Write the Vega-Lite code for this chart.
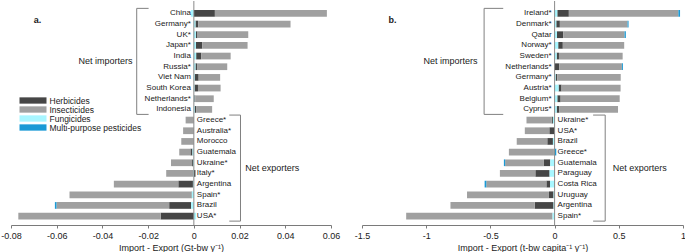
{
"$schema": "https://vega.github.io/schema/vega-lite/v6.json",
"padding": 0,
"autosize": {"type": "pad"},
"config": {
  "font": "Liberation Sans",
  "view": {"stroke": null},
  "text": {"baseline": "middle", "fontSize": 8, "color": "#1a1a1a"},
  "axisX": {"domainColor": "#7a7a7a", "tickColor": "#7a7a7a", "tickSize": 3, "labelFontSize": 9, "labelColor": "#1a1a1a", "labelPadding": 3, "labelFlush": false, "titleFontSize": 9, "titleFontWeight": "normal", "titleColor": "#1a1a1a", "titlePadding": 3, "grid": false}
},
"datasets": {
  "a": [
    {"country": "China", "grp": "imp", "Herbicides": 0.0092, "Insecticides": 0.049, "Fungicides": -0.0013, "Multi-purpose pesticides": 0},
    {"country": "Germany*", "grp": "imp", "Herbicides": 0.0012, "Insecticides": 0.0404, "Fungicides": 0.0007, "Multi-purpose pesticides": 0},
    {"country": "UK*", "grp": "imp", "Herbicides": 0.0007, "Insecticides": 0.0222, "Fungicides": 0.0009, "Multi-purpose pesticides": 0},
    {"country": "Japan*", "grp": "imp", "Herbicides": 0.0028, "Insecticides": 0.0198, "Fungicides": 0.0009, "Multi-purpose pesticides": 0},
    {"country": "India", "grp": "imp", "Herbicides": 0.0022, "Insecticides": 0.0129, "Fungicides": 0.001, "Multi-purpose pesticides": 0},
    {"country": "Russia*", "grp": "imp", "Herbicides": 0.0007, "Insecticides": 0.0132, "Fungicides": 0.0007, "Multi-purpose pesticides": 0},
    {"country": "Viet Nam", "grp": "imp", "Herbicides": 0.0017, "Insecticides": 0.0094, "Fungicides": 0.0004, "Multi-purpose pesticides": 0},
    {"country": "South Korea", "grp": "imp", "Herbicides": 0.0015, "Insecticides": 0.0099, "Fungicides": 0.0003, "Multi-purpose pesticides": 0},
    {"country": "Netherlands*", "grp": "imp", "Herbicides": 0.0004, "Insecticides": 0.0081, "Fungicides": 0.0002, "Multi-purpose pesticides": 0},
    {"country": "Indonesia", "grp": "imp", "Herbicides": 0.0006, "Insecticides": 0.007, "Fungicides": 0.0004, "Multi-purpose pesticides": 0},
    {"country": "Greece*", "grp": "exp", "Herbicides": 0, "Insecticides": -0.0036, "Fungicides": 0, "Multi-purpose pesticides": 0},
    {"country": "Australia*", "grp": "exp", "Herbicides": 0, "Insecticides": -0.0047, "Fungicides": 0, "Multi-purpose pesticides": 0},
    {"country": "Morocco", "grp": "exp", "Herbicides": 0, "Insecticides": -0.0055, "Fungicides": 0, "Multi-purpose pesticides": 0},
    {"country": "Guatemala", "grp": "exp", "Herbicides": -0.0009, "Insecticides": -0.0049, "Fungicides": -0.0006, "Multi-purpose pesticides": 0},
    {"country": "Ukraine*", "grp": "exp", "Herbicides": -0.0004, "Insecticides": -0.0092, "Fungicides": -0.0004, "Multi-purpose pesticides": 0},
    {"country": "Italy*", "grp": "exp", "Herbicides": 0.0007, "Insecticides": -0.0118, "Fungicides": -0.0003, "Multi-purpose pesticides": 0},
    {"country": "Argentina", "grp": "exp", "Herbicides": -0.0064, "Insecticides": -0.0282, "Fungicides": -0.0004, "Multi-purpose pesticides": 0},
    {"country": "Spain*", "grp": "exp", "Herbicides": -0.0002, "Insecticides": -0.0533, "Fungicides": -0.0009, "Multi-purpose pesticides": 0},
    {"country": "Brazil", "grp": "exp", "Herbicides": -0.0096, "Insecticides": -0.0493, "Fungicides": -0.0012, "Multi-purpose pesticides": -0.0007},
    {"country": "USA*", "grp": "exp", "Herbicides": -0.0145, "Insecticides": -0.0623, "Fungicides": 0.001, "Multi-purpose pesticides": 0}
  ],
  "b": [
    {"country": "Ireland*", "grp": "imp", "Herbicides": 0.09, "Insecticides": 0.853, "Fungicides": 0.021, "Multi-purpose pesticides": 0.013},
    {"country": "Denmark*", "grp": "imp", "Herbicides": 0.028, "Insecticides": 0.527, "Fungicides": 0.013, "Multi-purpose pesticides": 0.008},
    {"country": "Qatar", "grp": "imp", "Herbicides": 0.049, "Insecticides": 0.478, "Fungicides": 0.018, "Multi-purpose pesticides": 0.01},
    {"country": "Norway*", "grp": "imp", "Herbicides": 0.036, "Insecticides": 0.478, "Fungicides": 0.028, "Multi-purpose pesticides": 0},
    {"country": "Sweden*", "grp": "imp", "Herbicides": 0.018, "Insecticides": 0.496, "Fungicides": 0.016, "Multi-purpose pesticides": 0},
    {"country": "Netherlands*", "grp": "imp", "Herbicides": 0.036, "Insecticides": 0.488, "Fungicides": 0, "Multi-purpose pesticides": 0.008},
    {"country": "Germany*", "grp": "imp", "Herbicides": 0.013, "Insecticides": 0.494, "Fungicides": 0.008, "Multi-purpose pesticides": 0},
    {"country": "Austria*", "grp": "imp", "Herbicides": 0.023, "Insecticides": 0.46, "Fungicides": 0.031, "Multi-purpose pesticides": 0},
    {"country": "Belgium*", "grp": "imp", "Herbicides": 0.026, "Insecticides": 0.46, "Fungicides": 0.021, "Multi-purpose pesticides": 0},
    {"country": "Cyprus*", "grp": "imp", "Herbicides": 0.021, "Insecticides": 0.457, "Fungicides": 0.016, "Multi-purpose pesticides": 0},
    {"country": "Ukraine*", "grp": "exp", "Herbicides": -0.01, "Insecticides": -0.196, "Fungicides": -0.013, "Multi-purpose pesticides": 0},
    {"country": "USA*", "grp": "exp", "Herbicides": -0.041, "Insecticides": -0.191, "Fungicides": 0, "Multi-purpose pesticides": 0},
    {"country": "Brazil", "grp": "exp", "Herbicides": -0.044, "Insecticides": -0.238, "Fungicides": -0.013, "Multi-purpose pesticides": 0},
    {"country": "Greece*", "grp": "exp", "Herbicides": 0, "Insecticides": -0.351, "Fungicides": -0.005, "Multi-purpose pesticides": 0.013},
    {"country": "Guatemala", "grp": "exp", "Herbicides": -0.049, "Insecticides": -0.302, "Fungicides": -0.034, "Multi-purpose pesticides": -0.01},
    {"country": "Paraguay", "grp": "exp", "Herbicides": -0.111, "Insecticides": -0.276, "Fungicides": -0.039, "Multi-purpose pesticides": 0},
    {"country": "Costa Rica", "grp": "exp", "Herbicides": -0.028, "Insecticides": -0.468, "Fungicides": -0.036, "Multi-purpose pesticides": -0.013},
    {"country": "Uruguay", "grp": "exp", "Herbicides": -0.036, "Insecticides": -0.638, "Fungicides": -0.008, "Multi-purpose pesticides": 0},
    {"country": "Argentina", "grp": "exp", "Herbicides": -0.147, "Insecticides": -0.656, "Fungicides": -0.008, "Multi-purpose pesticides": 0},
    {"country": "Spain*", "grp": "exp", "Herbicides": 0, "Insecticides": -1.14, "Fungicides": -0.016, "Multi-purpose pesticides": 0}
  ]
},
"spacing": 31,
"bounds": "flush",
"resolve": {"scale": {"color": "shared"}},
"hconcat": [
  {
    "width": 320,
    "height": 224,
    "layer": [
      {
        "data": {"name": "a"},
        "transform": [{"fold": ["Herbicides", "Insecticides", "Fungicides", "Multi-purpose pesticides"], "as": ["type", "value"]}],
        "mark": {"type": "bar"},
        "encoding": {
          "y": {"field": "country", "type": "nominal", "axis": null,
                "scale": {"domain": ["China", "Germany*", "UK*", "Japan*", "India", "Russia*", "Viet Nam", "South Korea", "Netherlands*", "Indonesia", "Greece*", "Australia*", "Morocco", "Guatemala", "Ukraine*", "Italy*", "Argentina", "Spain*", "Brazil", "USA*"], "paddingInner": 0.37, "paddingOuter": 0.68, "align": 0.62}},
          "x": {"field": "value", "type": "quantitative", "stack": "zero",
                "scale": {"domain": [-0.08, 0.06], "nice": false, "zero": false},
                "axis": {"values": [-0.08, -0.06, -0.04, -0.02, 0, 0.02, 0.04, 0.06], "labelExpr": "replace(format(datum.value, '~g'), '\u2212', '-')", "title": "Import - Export (Gt-bw y\u207b\u00b9)"}},
          "color": {"field": "type", "type": "nominal",
                    "sort": ["Herbicides", "Insecticides", "Fungicides", "Multi-purpose pesticides"],
                    "scale": {"domain": ["Herbicides", "Insecticides", "Fungicides", "Multi-purpose pesticides"], "range": ["#464646", "#a0a0a0", "#a8f6ff", "#1a9ad6"]},
                    "legend": {"orient": "none", "legendX": 17.5, "legendY": 95, "title": null, "symbolType": "M-3,-0.7H3V0.7H-3Z", "symbolSize": 81, "symbolStrokeWidth": 0, "labelFontSize": 8.5, "labelColor": "#1a1a1a", "labelOffset": 12, "rowPadding": 0, "padding": 0}}
        }
      },
      {"data": {"values": [{}]}, "mark": {"type": "rule", "color": "#8a8a8a", "strokeWidth": 1}, "encoding": {"x": {"datum": 0}}},
      {"data": {"name": "a"}, "transform": [{"filter": "datum.grp == 'imp'"}], "mark": {"type": "text", "align": "right", "dx": -3},
       "encoding": {"x": {"datum": 0}, "y": {"field": "country", "type": "nominal"}, "text": {"field": "country"}}},
      {"data": {"name": "a"}, "transform": [{"filter": "datum.grp == 'exp'"}], "mark": {"type": "text", "align": "left", "dx": 3},
       "encoding": {"x": {"datum": 0}, "y": {"field": "country", "type": "nominal"}, "text": {"field": "country"}}},
      {"data": {"values": [{}]}, "mark": {"type": "rule", "color": "#808080", "yOffset": -5, "y2Offset": 5},
       "encoding": {"x": {"datum": -0.025}, "y": {"datum": "China"}, "y2": {"datum": "Indonesia"}}},
      {"data": {"values": [{}]}, "mark": {"type": "rule", "color": "#808080", "yOffset": -5},
       "encoding": {"x": {"datum": -0.025}, "x2": {"datum": -0.0198}, "y": {"datum": "China"}}},
      {"data": {"values": [{}]}, "mark": {"type": "rule", "color": "#808080", "yOffset": 5},
       "encoding": {"x": {"datum": -0.025}, "x2": {"datum": -0.0198}, "y": {"datum": "Indonesia"}}},
      {"data": {"values": [{}]}, "mark": {"type": "rule", "color": "#808080", "yOffset": -5, "y2Offset": 5},
       "encoding": {"x": {"datum": 0.0204}, "y": {"datum": "Greece*"}, "y2": {"datum": "USA*"}}},
      {"data": {"values": [{}]}, "mark": {"type": "rule", "color": "#808080", "yOffset": -5},
       "encoding": {"x": {"datum": 0.0155}, "x2": {"datum": 0.0204}, "y": {"datum": "Greece*"}}},
      {"data": {"values": [{}]}, "mark": {"type": "rule", "color": "#808080", "yOffset": 5},
       "encoding": {"x": {"datum": 0.0155}, "x2": {"datum": 0.0204}, "y": {"datum": "USA*"}}},
      {"data": {"values": [{}]}, "mark": {"type": "text", "align": "right", "fontSize": 9, "dy": 5.3},
       "encoding": {"x": {"datum": -0.0268}, "y": {"datum": "India"}, "text": {"value": "Net importers"}}},
      {"data": {"values": [{}]}, "mark": {"type": "text", "align": "left", "fontSize": 9, "dy": 5.3},
       "encoding": {"x": {"datum": 0.0225}, "y": {"datum": "Ukraine*"}, "text": {"value": "Net exporters"}}},
      {"data": {"values": [{}]}, "mark": {"type": "text", "align": "left", "fontSize": 9, "fontWeight": "bold", "dy": 6.7},
       "encoding": {"x": {"datum": -0.0701}, "y": {"datum": "China"}, "text": {"value": "a."}}}
    ]
  },
  {
    "width": 321,
    "height": 224,
    "layer": [
      {
        "data": {"name": "b"},
        "transform": [{"fold": ["Herbicides", "Insecticides", "Fungicides", "Multi-purpose pesticides"], "as": ["type", "value"]}],
        "mark": {"type": "bar"},
        "encoding": {
          "y": {"field": "country", "type": "nominal", "axis": null,
                "scale": {"domain": ["Ireland*", "Denmark*", "Qatar", "Norway*", "Sweden*", "Netherlands*", "Germany*", "Austria*", "Belgium*", "Cyprus*", "Ukraine*", "USA*", "Brazil", "Greece*", "Guatemala", "Paraguay", "Costa Rica", "Uruguay", "Argentina", "Spain*"], "paddingInner": 0.37, "paddingOuter": 0.68, "align": 0.62}},
          "x": {"field": "value", "type": "quantitative", "stack": "zero",
                "scale": {"domain": [-1.5, 1], "nice": false, "zero": false},
                "axis": {"values": [-1.5, -1, -0.5, 0, 0.5, 1], "labelExpr": "replace(format(datum.value, '~g'), '\u2212', '-')", "title": "Import - Export (t-bw capita\u207b\u00b9 y\u207b\u00b9)"}},
          "color": {"field": "type", "type": "nominal",
                    "sort": ["Herbicides", "Insecticides", "Fungicides", "Multi-purpose pesticides"],
                    "scale": {"domain": ["Herbicides", "Insecticides", "Fungicides", "Multi-purpose pesticides"], "range": ["#464646", "#a0a0a0", "#a8f6ff", "#1a9ad6"]}}
        }
      },
      {"data": {"values": [{}]}, "mark": {"type": "rule", "color": "#8a8a8a", "strokeWidth": 1}, "encoding": {"x": {"datum": 0}}},
      {"data": {"name": "b"}, "transform": [{"filter": "datum.grp == 'imp'"}], "mark": {"type": "text", "align": "right", "dx": -3},
       "encoding": {"x": {"datum": 0}, "y": {"field": "country", "type": "nominal"}, "text": {"field": "country"}}},
      {"data": {"name": "b"}, "transform": [{"filter": "datum.grp == 'exp'"}], "mark": {"type": "text", "align": "left", "dx": 3},
       "encoding": {"x": {"datum": 0}, "y": {"field": "country", "type": "nominal"}, "text": {"field": "country"}}},
      {"data": {"values": [{}]}, "mark": {"type": "rule", "color": "#808080", "yOffset": -5, "y2Offset": 5},
       "encoding": {"x": {"datum": -0.549}, "y": {"datum": "Ireland*"}, "y2": {"datum": "Cyprus*"}}},
      {"data": {"values": [{}]}, "mark": {"type": "rule", "color": "#808080", "yOffset": -5},
       "encoding": {"x": {"datum": -0.549}, "x2": {"datum": -0.40}, "y": {"datum": "Ireland*"}}},
      {"data": {"values": [{}]}, "mark": {"type": "rule", "color": "#808080", "yOffset": 5},
       "encoding": {"x": {"datum": -0.549}, "x2": {"datum": -0.40}, "y": {"datum": "Cyprus*"}}},
      {"data": {"values": [{}]}, "mark": {"type": "rule", "color": "#808080", "yOffset": -5, "y2Offset": 5},
       "encoding": {"x": {"datum": 0.394}, "y": {"datum": "Ukraine*"}, "y2": {"datum": "Spain*"}}},
      {"data": {"values": [{}]}, "mark": {"type": "rule", "color": "#808080", "yOffset": -5},
       "encoding": {"x": {"datum": 0.30}, "x2": {"datum": 0.394}, "y": {"datum": "Ukraine*"}}},
      {"data": {"values": [{}]}, "mark": {"type": "rule", "color": "#808080", "yOffset": 5},
       "encoding": {"x": {"datum": 0.30}, "x2": {"datum": 0.394}, "y": {"datum": "Spain*"}}},
      {"data": {"values": [{}]}, "mark": {"type": "text", "align": "right", "fontSize": 9, "dy": 5.3},
       "encoding": {"x": {"datum": -0.60}, "y": {"datum": "Sweden*"}, "text": {"value": "Net importers"}}},
      {"data": {"values": [{}]}, "mark": {"type": "text", "align": "left", "fontSize": 9, "dy": 5.3},
       "encoding": {"x": {"datum": 0.452}, "y": {"datum": "Guatemala"}, "text": {"value": "Net exporters"}}},
      {"data": {"values": [{}]}, "mark": {"type": "text", "align": "left", "fontSize": 9, "fontWeight": "bold", "dy": 6.7},
       "encoding": {"x": {"datum": -1.294}, "y": {"datum": "Ireland*"}, "text": {"value": "b."}}}
    ]
  }
]
}
